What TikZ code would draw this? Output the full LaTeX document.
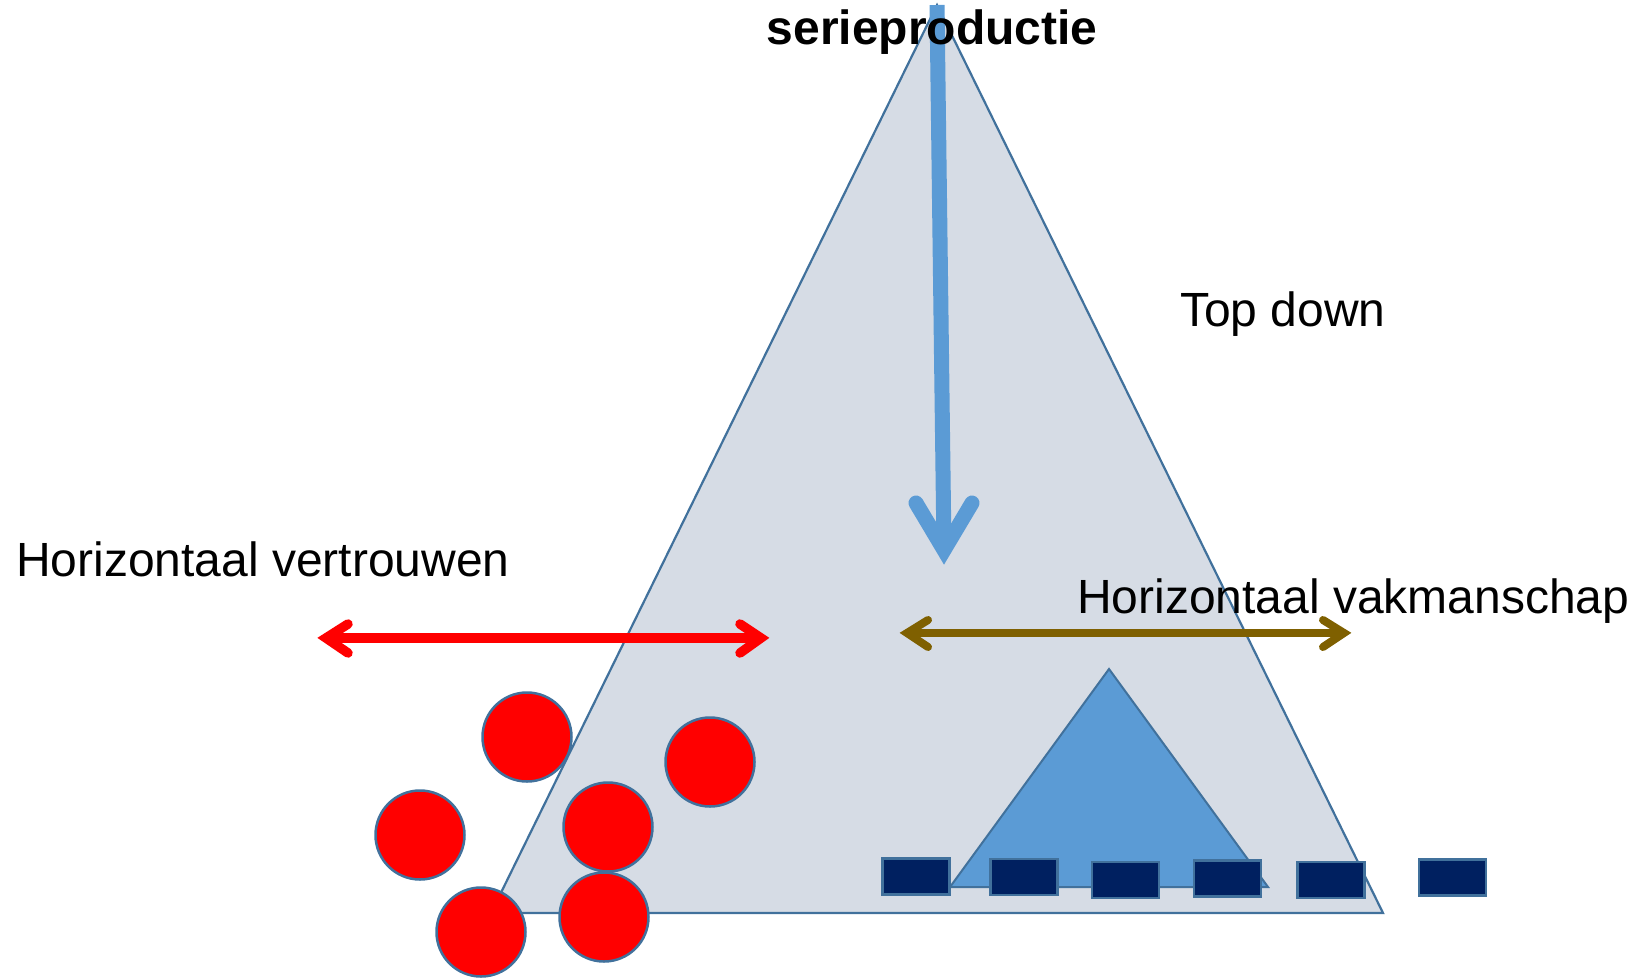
\documentclass[tikz,border=0pt]{standalone}
\usepackage{fontspec}
\setmainfont{Liberation Sans}
\definecolor{edgeblue}{HTML}{41719C}
\definecolor{paleblue}{HTML}{D6DCE5}
\definecolor{midblue}{HTML}{5B9BD5}
\definecolor{navy}{HTML}{002060}
\definecolor{ochre}{HTML}{7F6000}
\begin{document}
\begin{tikzpicture}[x=1pt,y=-1pt,
  lbl/.style={inner sep=0pt, font=\fontsize{48}{58}\selectfont},
  ball/.style={circle, draw=edgeblue, line width=2.5pt, fill=red, minimum size=89pt, inner sep=0pt},
  block/.style={rectangle, draw=edgeblue, line width=2.5pt, fill=navy, minimum width=67pt, minimum height=36pt, inner sep=0pt},
  shaft/.style={line width=#1, line cap=butt},
  barb/.style={line width=#1, line cap=round, line join=miter}
]
\useasboundingbox (0,0) rectangle (1637,977);

% large pyramid
\draw[fill=paleblue, draw=edgeblue, line width=2.2pt] (937,5) -- (491,913) -- (1383,913) -- cycle;

% small pyramid
\draw[fill=midblue, draw=edgeblue, line width=2pt] (1109,669) -- (950,887) -- (1268,887) -- cycle;

% top-down arrow
\coordinate (dTop) at (937,5);
\coordinate (dTip) at (944,550);
\coordinate (dL) at (916,503);
\coordinate (dR) at (972,503);
\draw[midblue, shaft=15pt] (dTop) -- (dTip);
\draw[midblue, barb=15pt] (dL) -- (dTip) -- (dR);

% red double arrow
\coordinate (rA) at (326,638);
\coordinate (rB) at (761,638);
\draw[red, shaft=9.5pt] (rA) -- (rB);
\draw[red, barb=9.5pt] (348,624) -- (rA) -- (348,653);
\draw[red, barb=9.5pt] (740,624) -- (rB) -- (740,653);

% ochre double arrow
\coordinate (bA) at (907,633);
\coordinate (bB) at (1344,633);
\draw[ochre, shaft=8pt] (bA) -- (bB);
\draw[ochre, barb=8pt] (928,620) -- (bA) -- (928,647);
\draw[ochre, barb=8pt] (1323,620) -- (bB) -- (1323,647);

% red circles
\node[ball] (c1) at (527,737) {};
\node[ball] (c2) at (710,762) {};
\node[ball] (c3) at (420,835) {};
\node[ball] (c4) at (608,827) {};
\node[ball] (c5) at (481,932) {};
\node[ball] (c6) at (604,917) {};

% dark blocks
\node[block] (b1) at (916,876.5) {};
\node[block] (b2) at (1024,877) {};
\node[block] (b3) at (1125.5,880) {};
\node[block] (b4) at (1227.5,878.5) {};
\node[block] (b5) at (1331,880) {};
\node[block] (b6) at (1452.5,877.5) {};

% labels
\node[lbl, anchor=base, font=\fontsize{48}{58}\selectfont\bfseries] (tSerie) at (932,44) {serieproductie};
\node[lbl, anchor=base west] (tTop) at (1180,326) {Top down};
\node[lbl, anchor=base west] (tTrust) at (16,576) {Horizontaal vertrouwen};
\node[lbl, anchor=base west] (tCraft) at (1077,613) {Horizontaal vakmanschap};
\end{tikzpicture}
\end{document}
